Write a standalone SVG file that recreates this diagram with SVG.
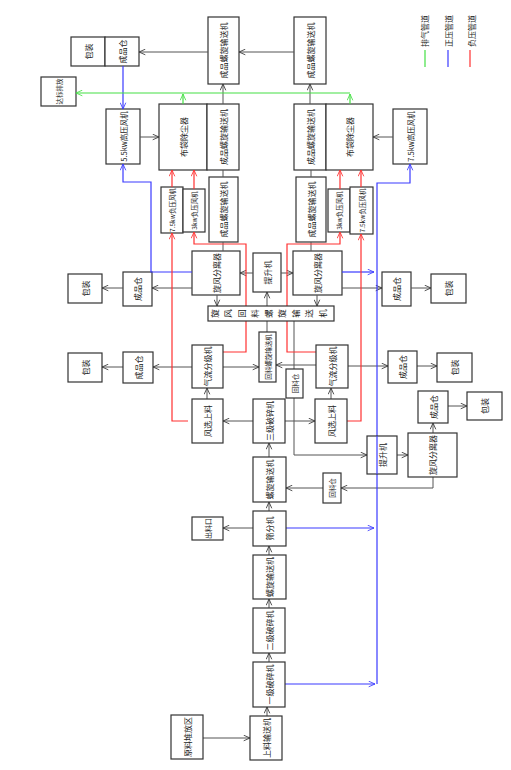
<svg xmlns="http://www.w3.org/2000/svg" width="511" height="770" viewBox="0 0 511 770">
<style>
.b{fill:#fff;stroke:#333;stroke-width:1.2}
.t{font-family:"Noto Sans CJK SC","Liberation Sans",sans-serif;font-size:8px;fill:#222;text-anchor:middle;dominant-baseline:central}
.s{font-size:6.5px}
.k{fill:none;stroke:#555;stroke-width:1}
.bl{fill:none;stroke:#3a3aff;stroke-width:1.2}
.rd{fill:none;stroke:#ff3030;stroke-width:1.2}
.gr{fill:none;stroke:#44e044;stroke-width:1.2}
</style>
<defs>
<marker id="ak" viewBox="0 0 10 10" refX="10" refY="5" markerWidth="7" markerHeight="7" orient="auto" markerUnits="userSpaceOnUse"><path d="M1,1 L10,5 L1,9" fill="none" stroke="#333" stroke-width="1.2"/></marker>
<marker id="ab" viewBox="0 0 10 10" refX="10" refY="5" markerWidth="7" markerHeight="7" orient="auto" markerUnits="userSpaceOnUse"><path d="M1,1 L10,5 L1,9" fill="none" stroke="#3a3aff" stroke-width="1.2"/></marker>
<marker id="ar" viewBox="0 0 10 10" refX="10" refY="5" markerWidth="7" markerHeight="7" orient="auto" markerUnits="userSpaceOnUse"><path d="M1,1 L10,5 L1,9" fill="none" stroke="#ff3030" stroke-width="1.2"/></marker>
<marker id="ag" viewBox="0 0 10 10" refX="10" refY="5" markerWidth="7" markerHeight="7" orient="auto" markerUnits="userSpaceOnUse"><path d="M1,1 L10,5 L1,9" fill="none" stroke="#44e044" stroke-width="1.2"/></marker>
</defs>

<g id="legend">
<text class="t" transform="translate(424,31) rotate(-90)">排气管道</text>
<text class="t" transform="translate(448,31) rotate(-90)">正压管道</text>
<text class="t" transform="translate(471,31) rotate(-90)">负压管道</text>
<line x1="425" y1="50" x2="425" y2="67" class="gr"/>
<line x1="448" y1="50" x2="448" y2="67" class="bl"/>
<line x1="470" y1="50" x2="470" y2="67" class="rd"/>
</g>

<g id="n-pack-top"><rect class="b" x="71" y="37" width="34" height="29"/><text class="t" transform="translate(88,51.5) rotate(-90)">包装</text></g>
<g id="n-silo-top"><rect class="b" x="105" y="37" width="34" height="29"/><text class="t" transform="translate(122,51.5) rotate(-90)">成品仓</text></g>
<g id="n-emit"><rect class="b" x="41" y="77" width="35" height="29"/><text class="t" style="font-size:6.5px" transform="translate(58.5,91.5) rotate(-90)">达标排放</text></g>
<g id="n-fan55"><rect class="b" x="106" y="109" width="34" height="55"/><text class="t" style="font-size:7.5px" transform="translate(123,136.5) rotate(-90)">5.5kw高压风机</text></g>
<g id="n-bagL"><rect class="b" x="159" y="104" width="48" height="66"/><text class="t" transform="translate(183,137) rotate(-90)">布袋除尘器</text></g>
<g id="n-A"><rect class="b" x="208" y="17" width="31" height="67"/><text class="t" transform="translate(223.5,50.5) rotate(-90)">成品螺旋输送机</text></g>
<g id="n-B"><rect class="b" x="294" y="17" width="32" height="67"/><text class="t" transform="translate(310,50.5) rotate(-90)">成品螺旋输送机</text></g>
<g id="n-C"><rect class="b" x="207" y="104" width="32" height="66"/><text class="t" transform="translate(223,137) rotate(-90)">成品螺旋输送机</text></g>
<g id="n-D"><rect class="b" x="294" y="104" width="32" height="66"/><text class="t" transform="translate(310,137) rotate(-90)">成品螺旋输送机</text></g>
<g id="n-bagR"><rect class="b" x="326" y="104" width="47" height="66"/><text class="t" transform="translate(349.5,137) rotate(-90)">布袋除尘器</text></g>
<g id="n-fan75"><rect class="b" x="393" y="109" width="34" height="55"/><text class="t" style="font-size:7.5px" transform="translate(410,136.5) rotate(-90)">7.5kw高压风机</text></g>
<g id="n-nf75L"><rect class="b" x="161" y="187" width="22" height="46"/><text class="t s" transform="translate(172,210) rotate(-90)">7.5kw负压风机</text></g>
<g id="n-nf3L"><rect class="b" x="183" y="189" width="22" height="43"/><text class="t s" transform="translate(194,210.5) rotate(-90)">3kw负压风机</text></g>
<g id="n-E"><rect class="b" x="209" y="177" width="29" height="65"/><text class="t" transform="translate(223.5,209.5) rotate(-90)">成品螺旋输送机</text></g>
<g id="n-D2"><rect class="b" x="296" y="177" width="30" height="65"/><text class="t" transform="translate(311,209.5) rotate(-90)">成品螺旋输送机</text></g>
<g id="n-nf3R"><rect class="b" x="328" y="189" width="22" height="43"/><text class="t s" transform="translate(339,210.5) rotate(-90)">3kw负压风机</text></g>
<g id="n-nf75R"><rect class="b" x="350" y="187" width="23" height="47"/><text class="t s" transform="translate(361.5,210.5) rotate(-90)">7.5kw负压风机</text></g>
<g id="n-cycL"><rect class="b" x="192" y="251" width="48" height="44"/><text class="t" transform="translate(216,273) rotate(-90)">旋风分离器</text></g>
<g id="n-lift1"><rect class="b" x="253" y="253" width="28" height="39"/><text class="t" transform="translate(267,272.5) rotate(-90)">提升机</text></g>
<g id="n-cycR"><rect class="b" x="293" y="251" width="49" height="44"/><text class="t" transform="translate(317.5,273) rotate(-90)">旋风分离器</text></g>
<g id="n-siloL1"><rect class="b" x="123" y="272" width="29" height="34"/><text class="t" transform="translate(137.5,289) rotate(-90)">成品仓</text></g>
<g id="n-packL1"><rect class="b" x="68" y="274" width="34" height="29"/><text class="t" transform="translate(85,288.5) rotate(-90)">包装</text></g>
<g id="n-siloR1"><rect class="b" x="382" y="272" width="29" height="34"/><text class="t" transform="translate(396.5,289) rotate(-90)">成品仓</text></g>
<g id="n-packR1"><rect class="b" x="431" y="274" width="35" height="29"/><text class="t" transform="translate(448.5,288.5) rotate(-90)">包装</text></g>

<g id="connectors">
<line class="k" x1="208" y1="52" x2="139" y2="52" marker-end="url(#ak)"/>
<line class="k" x1="294" y1="52" x2="239" y2="52" marker-end="url(#ak)"/>
<line class="k" x1="223" y1="104" x2="223" y2="84" marker-end="url(#ak)"/>
<line class="k" x1="310" y1="104" x2="310" y2="84" marker-end="url(#ak)"/>
<line class="k" x1="223" y1="177" x2="223" y2="170"/>
<line class="k" x1="311" y1="177" x2="311" y2="170"/>
<line class="k" x1="223" y1="251" x2="223" y2="242"/>
<line class="k" x1="311" y1="251" x2="311" y2="242"/>
<line class="k" x1="140" y1="137" x2="159" y2="137" marker-end="url(#ak)"/>
<line class="k" x1="393" y1="137" x2="373" y2="137" marker-end="url(#ak)"/>
<line class="k" x1="253" y1="273" x2="240" y2="273" marker-end="url(#ak)"/>
<line class="k" x1="281" y1="273" x2="293" y2="273" marker-end="url(#ak)"/>
<line class="k" x1="267" y1="332" x2="267" y2="321"/>
<line class="k" x1="267" y1="306" x2="267" y2="292" marker-end="url(#ak)"/>
<line class="k" x1="217" y1="295" x2="217" y2="306" marker-end="url(#ak)"/>
<line class="k" x1="317" y1="295" x2="317" y2="306" marker-end="url(#ak)"/>
<line class="k" x1="192" y1="288" x2="152" y2="288" marker-end="url(#ak)"/>
<line class="k" x1="123" y1="288" x2="102" y2="288" marker-end="url(#ak)"/>
<line class="k" x1="342" y1="288" x2="382" y2="288" marker-end="url(#ak)"/>
<line class="k" x1="411" y1="288" x2="431" y2="288" marker-end="url(#ak)"/>
<line class="k" x1="192" y1="367" x2="153" y2="367" marker-end="url(#ak)"/>
<line class="k" x1="123" y1="367" x2="102" y2="367" marker-end="url(#ak)"/>
<line class="k" x1="223" y1="367" x2="259" y2="367" marker-end="url(#ak)"/>
<line class="k" x1="316" y1="365" x2="276" y2="365" marker-end="url(#ak)"/>
<line class="k" x1="348" y1="366" x2="388" y2="366" marker-end="url(#ak)"/>
<line class="k" x1="417" y1="366" x2="437" y2="366" marker-end="url(#ak)"/>
<line class="k" x1="207" y1="399" x2="207" y2="388" marker-end="url(#ak)"/>
<line class="k" x1="331" y1="399" x2="331" y2="388" marker-end="url(#ak)"/>
<line class="k" x1="253" y1="421" x2="223" y2="421" marker-end="url(#ak)"/>
<line class="k" x1="285" y1="421" x2="315" y2="421" marker-end="url(#ak)"/>
<line class="k" x1="294" y1="321" x2="294" y2="369"/>
<polyline class="k" points="294,398 294,455 367,455" marker-end="url(#ak)"/>
<line class="k" x1="397" y1="455" x2="408" y2="455" marker-end="url(#ak)"/>
<line class="k" x1="433" y1="433" x2="433" y2="423" marker-end="url(#ak)"/>
<line class="k" x1="448" y1="406" x2="467" y2="406" marker-end="url(#ak)"/>
<polyline class="k" points="433,477 433,488 341,488" marker-end="url(#ak)"/>
<line class="k" x1="323" y1="488" x2="286" y2="488" marker-end="url(#ak)"/>
<line class="k" x1="269" y1="457" x2="269" y2="443" marker-end="url(#ak)"/>
<line class="k" x1="269" y1="511" x2="269" y2="502" marker-end="url(#ak)"/>
<line class="k" x1="253" y1="528" x2="223" y2="528" marker-end="url(#ak)"/>
<line class="k" x1="269" y1="555" x2="269" y2="546" marker-end="url(#ak)"/>
<line class="k" x1="269" y1="608" x2="269" y2="599" marker-end="url(#ak)"/>
<line class="k" x1="269" y1="662" x2="269" y2="653" marker-end="url(#ak)"/>
<line class="k" x1="267" y1="716" x2="267" y2="707" marker-end="url(#ak)"/>
<line class="k" x1="203" y1="738" x2="250" y2="738" marker-end="url(#ak)"/>
<line class="bl" x1="123" y1="66" x2="123" y2="109" marker-end="url(#ab)"/>
<polyline class="bl" points="192,272 151,272 151,182 123,182 123,164" marker-end="url(#ab)"/>
<line class="bl" x1="342" y1="272" x2="374" y2="272" marker-end="url(#ab)"/>
<polyline class="bl" points="377,684 377,183 410,183 410,164" marker-end="url(#ab)"/>
<line class="bl" x1="286" y1="528" x2="374" y2="528" marker-end="url(#ab)"/>
<line class="bl" x1="285" y1="684" x2="375" y2="684" marker-end="url(#ab)"/>
<line class="rd" x1="172" y1="187" x2="172" y2="170" marker-end="url(#ar)"/>
<polyline class="rd" points="188,421 172,421 172,233" marker-end="url(#ar)"/>
<line class="rd" x1="194" y1="189" x2="194" y2="170" marker-end="url(#ar)"/>
<polyline class="rd" points="223,352 246,352 246,321"/>
<polyline class="rd" points="246,306 246,244 194,244 194,232" marker-end="url(#ar)"/>
<line class="rd" x1="340" y1="189" x2="340" y2="170" marker-end="url(#ar)"/>
<polyline class="rd" points="316,352 287,352 287,321"/>
<polyline class="rd" points="287,306 287,244 340,244 340,232" marker-end="url(#ar)"/>
<line class="rd" x1="361" y1="187" x2="361" y2="170" marker-end="url(#ar)"/>
<polyline class="rd" points="347,421 361,421 361,234" marker-end="url(#ar)"/>
<line class="gr" x1="350" y1="93" x2="76" y2="93" marker-end="url(#ag)"/>
<line class="gr" x1="183" y1="104" x2="183" y2="94" marker-end="url(#ag)"/>
<line class="gr" x1="350" y1="104" x2="350" y2="94" marker-end="url(#ag)"/>
</g>

<g id="n-bar"><rect class="b" x="208" y="306" width="126" height="15"/><text class="t" style="writing-mode:vertical-rl;font-size:8.5px" letter-spacing="5" transform="translate(271,313.5) rotate(-90)">旋风回料螺旋输送机</text></g>
<g id="n-clsL"><rect class="b" x="192" y="345" width="31" height="43"/><text class="t" transform="translate(207.5,366.5) rotate(-90)">气流分级机</text></g>
<g id="n-siloL2"><rect class="b" x="123" y="352" width="30" height="31"/><text class="t" transform="translate(138,367.5) rotate(-90)">成品仓</text></g>
<g id="n-packL2"><rect class="b" x="68" y="353" width="34" height="29"/><text class="t" transform="translate(85,367.5) rotate(-90)">包装</text></g>
<g id="n-tall"><rect class="b" x="259" y="332" width="17" height="50"/><text class="t s" transform="translate(267.5,357) rotate(-90)">回料螺旋输送机</text></g>
<g id="n-clsR"><rect class="b" x="316" y="345" width="32" height="43"/><text class="t" transform="translate(332,366.5) rotate(-90)">气流分级机</text></g>
<g id="n-siloR2"><rect class="b" x="388" y="351" width="29" height="32"/><text class="t" transform="translate(402.5,367) rotate(-90)">成品仓</text></g>
<g id="n-packR2"><rect class="b" x="437" y="353" width="35" height="29"/><text class="t" transform="translate(454.5,367.5) rotate(-90)">包装</text></g>
<g id="n-sm1"><rect class="b" x="286" y="369" width="17" height="29"/><text class="t s" transform="translate(294.5,383.5) rotate(-90)">回料仓</text></g>
<g id="n-fsL"><rect class="b" x="192" y="399" width="31" height="44"/><text class="t" transform="translate(207.5,421) rotate(-90)">风选上料</text></g>
<g id="n-crush3"><rect class="b" x="253" y="399" width="32" height="44"/><text class="t" transform="translate(269,421) rotate(-90)">三级破碎机</text></g>
<g id="n-fsR"><rect class="b" x="315" y="399" width="32" height="44"/><text class="t" transform="translate(331,421) rotate(-90)">风选上料</text></g>
<g id="n-lift2"><rect class="b" x="367" y="436" width="30" height="38"/><text class="t" transform="translate(382,455) rotate(-90)">提升机</text></g>
<g id="n-cyc3"><rect class="b" x="408" y="433" width="49" height="44"/><text class="t" transform="translate(432.5,455) rotate(-90)">旋风分离器</text></g>
<g id="n-silo3"><rect class="b" x="418" y="391" width="30" height="32"/><text class="t" transform="translate(433,407) rotate(-90)">成品仓</text></g>
<g id="n-pack3"><rect class="b" x="467" y="392" width="35" height="28"/><text class="t" transform="translate(484.5,406) rotate(-90)">包装</text></g>
<g id="n-conv6"><rect class="b" x="253" y="457" width="33" height="45"/><text class="t" transform="translate(269.5,479.5) rotate(-90)">螺旋输送机</text></g>
<g id="n-sm2"><rect class="b" x="323" y="473" width="18" height="30"/><text class="t s" transform="translate(332,488) rotate(-90)">回料仓</text></g>
<g id="n-screen"><rect class="b" x="253" y="511" width="33" height="35"/><text class="t" transform="translate(269.5,528.5) rotate(-90)">筛分机</text></g>
<g id="n-outlet"><rect class="b" x="192" y="517" width="31" height="23"/><text class="t" style="font-size:7px" transform="translate(207.5,528.5) rotate(-90)">出料口</text></g>
<g id="n-conv4"><rect class="b" x="253" y="555" width="33" height="44"/><text class="t" transform="translate(269.5,577) rotate(-90)">螺旋输送机</text></g>
<g id="n-crush2"><rect class="b" x="253" y="608" width="32" height="45"/><text class="t" transform="translate(269,630.5) rotate(-90)">二级破碎机</text></g>
<g id="n-crush1"><rect class="b" x="253" y="662" width="32" height="45"/><text class="t" transform="translate(269,684.5) rotate(-90)">一级破碎机</text></g>
<g id="n-feeder"><rect class="b" x="250" y="716" width="32" height="44"/><text class="t" transform="translate(266,738) rotate(-90)">上料输送机</text></g>
<g id="n-raw"><rect class="b" x="171" y="715" width="32" height="44"/><text class="t" transform="translate(187,737) rotate(-90)">原料堆放区</text></g>

<path class="bl" d="M377,436 L377,474"/>
</svg>
